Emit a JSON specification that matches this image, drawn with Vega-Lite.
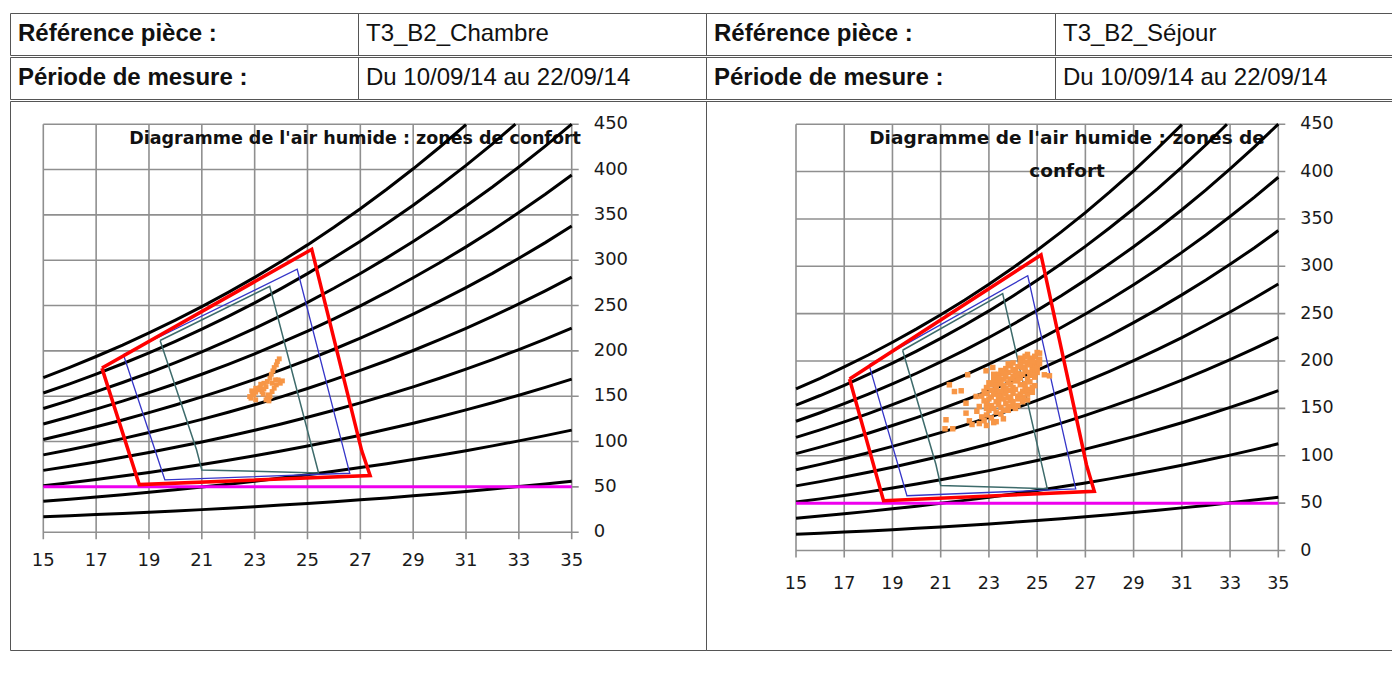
{
  "$schema": "https://vega.github.io/schema/vega-lite/v6.json",
  "padding": {"left": 9, "top": 12, "right": 0, "bottom": 0},
  "background": "white",
  "spacing": 0,
  "config": {"view": {"stroke": "#555555", "strokeWidth": 1}},
  "datasets": {
    "gridx": [{"t":15},{"t":17},{"t":19},{"t":21},{"t":23},{"t":25},{"t":27},{"t":29},{"t":31},{"t":33},{"t":35}],
    "gridy": [{"w":0},{"w":50},{"w":100},{"w":150},{"w":200},{"w":250},{"w":300},{"w":350},{"w":400},{"w":450}],
    "limite": [{"w": 50}],
    "curves": [
      {"r":100,"t":15,"w":170.5},{"r":100,"t":16,"w":181.8},{"r":100,"t":17,"w":193.8},{"r":100,"t":18,"w":206.4},{"r":100,"t":19,"w":219.8},{"r":100,"t":20,"w":233.9},{"r":100,"t":21,"w":248.8},{"r":100,"t":22,"w":264.5},{"r":100,"t":23,"w":281.0},{"r":100,"t":24,"w":298.5},{"r":100,"t":25,"w":316.9},{"r":100,"t":26,"w":336.3},{"r":100,"t":27,"w":356.7},{"r":100,"t":28,"w":378.2},{"r":100,"t":29,"w":400.8},{"r":100,"t":30,"w":424.6},{"r":100,"t":31,"w":449.6},
      {"r":90,"t":15,"w":153.5},{"r":90,"t":16,"w":163.6},{"r":90,"t":17,"w":174.4},{"r":90,"t":18,"w":185.8},{"r":90,"t":19,"w":197.8},{"r":90,"t":20,"w":210.5},{"r":90,"t":21,"w":223.9},{"r":90,"t":22,"w":238.1},{"r":90,"t":23,"w":252.9},{"r":90,"t":24,"w":268.7},{"r":90,"t":25,"w":285.2},{"r":90,"t":26,"w":302.7},{"r":90,"t":27,"w":321.0},{"r":90,"t":28,"w":340.4},{"r":90,"t":29,"w":360.7},{"r":90,"t":30,"w":382.1},{"r":90,"t":31,"w":404.6},{"r":90,"t":32,"w":428.3},{"r":90,"t":32.87,"w":450},
      {"r":80,"t":15,"w":136.4},{"r":80,"t":16,"w":145.4},{"r":80,"t":17,"w":155.0},{"r":80,"t":18,"w":165.1},{"r":80,"t":19,"w":175.8},{"r":80,"t":20,"w":187.1},{"r":80,"t":21,"w":199.0},{"r":80,"t":22,"w":211.6},{"r":80,"t":23,"w":224.8},{"r":80,"t":24,"w":238.8},{"r":80,"t":25,"w":253.5},{"r":80,"t":26,"w":269.0},{"r":80,"t":27,"w":285.4},{"r":80,"t":28,"w":302.6},{"r":80,"t":29,"w":320.6},{"r":80,"t":30,"w":339.7},{"r":80,"t":31,"w":359.7},{"r":80,"t":32,"w":380.7},{"r":80,"t":33,"w":402.8},{"r":80,"t":34,"w":425.9},{"r":80,"t":35,"w":450},
      {"r":70,"t":15,"w":119.4},{"r":70,"t":16,"w":127.3},{"r":70,"t":17,"w":135.7},{"r":70,"t":18,"w":144.5},{"r":70,"t":19,"w":153.9},{"r":70,"t":20,"w":163.7},{"r":70,"t":21,"w":174.2},{"r":70,"t":22,"w":185.2},{"r":70,"t":23,"w":196.7},{"r":70,"t":24,"w":209.0},{"r":70,"t":25,"w":221.8},{"r":70,"t":26,"w":235.4},{"r":70,"t":27,"w":249.7},{"r":70,"t":28,"w":264.7},{"r":70,"t":29,"w":280.6},{"r":70,"t":30,"w":297.2},{"r":70,"t":31,"w":314.7},{"r":70,"t":32,"w":333.1},{"r":70,"t":33,"w":352.5},{"r":70,"t":34,"w":372.7},{"r":70,"t":35,"w":394.0},
      {"r":60,"t":15,"w":102.3},{"r":60,"t":16,"w":109.1},{"r":60,"t":17,"w":116.3},{"r":60,"t":18,"w":123.8},{"r":60,"t":19,"w":131.9},{"r":60,"t":20,"w":140.3},{"r":60,"t":21,"w":149.3},{"r":60,"t":22,"w":158.7},{"r":60,"t":23,"w":168.6},{"r":60,"t":24,"w":179.1},{"r":60,"t":25,"w":190.1},{"r":60,"t":26,"w":201.8},{"r":60,"t":27,"w":214.0},{"r":60,"t":28,"w":226.9},{"r":60,"t":29,"w":240.5},{"r":60,"t":30,"w":254.8},{"r":60,"t":31,"w":269.8},{"r":60,"t":32,"w":285.5},{"r":60,"t":33,"w":302.1},{"r":60,"t":34,"w":319.4},{"r":60,"t":35,"w":337.7},
      {"r":50,"t":15,"w":85.3},{"r":50,"t":16,"w":90.9},{"r":50,"t":17,"w":96.9},{"r":50,"t":18,"w":103.2},{"r":50,"t":19,"w":109.9},{"r":50,"t":20,"w":117.0},{"r":50,"t":21,"w":124.4},{"r":50,"t":22,"w":132.3},{"r":50,"t":23,"w":140.5},{"r":50,"t":24,"w":149.3},{"r":50,"t":25,"w":158.5},{"r":50,"t":26,"w":168.2},{"r":50,"t":27,"w":178.4},{"r":50,"t":28,"w":189.1},{"r":50,"t":29,"w":200.4},{"r":50,"t":30,"w":212.3},{"r":50,"t":31,"w":224.8},{"r":50,"t":32,"w":238.0},{"r":50,"t":33,"w":251.8},{"r":50,"t":34,"w":266.2},{"r":50,"t":35,"w":281.4},
      {"r":40,"t":15,"w":68.2},{"r":40,"t":16,"w":72.7},{"r":40,"t":17,"w":77.5},{"r":40,"t":18,"w":82.6},{"r":40,"t":19,"w":87.9},{"r":40,"t":20,"w":93.6},{"r":40,"t":21,"w":99.5},{"r":40,"t":22,"w":105.8},{"r":40,"t":23,"w":112.4},{"r":40,"t":24,"w":119.4},{"r":40,"t":25,"w":126.8},{"r":40,"t":26,"w":134.5},{"r":40,"t":27,"w":142.7},{"r":40,"t":28,"w":151.3},{"r":40,"t":29,"w":160.3},{"r":40,"t":30,"w":169.8},{"r":40,"t":31,"w":179.8},{"r":40,"t":32,"w":190.4},{"r":40,"t":33,"w":201.4},{"r":40,"t":34,"w":213.0},{"r":40,"t":35,"w":225.1},
      {"r":30,"t":15,"w":51.2},{"r":30,"t":16,"w":54.5},{"r":30,"t":17,"w":58.1},{"r":30,"t":18,"w":61.9},{"r":30,"t":19,"w":65.9},{"r":30,"t":20,"w":70.2},{"r":30,"t":21,"w":74.6},{"r":30,"t":22,"w":79.4},{"r":30,"t":23,"w":84.3},{"r":30,"t":24,"w":89.6},{"r":30,"t":25,"w":95.1},{"r":30,"t":26,"w":100.9},{"r":30,"t":27,"w":107.0},{"r":30,"t":28,"w":113.5},{"r":30,"t":29,"w":120.2},{"r":30,"t":30,"w":127.4},{"r":30,"t":31,"w":134.9},{"r":30,"t":32,"w":142.8},{"r":30,"t":33,"w":151.1},{"r":30,"t":34,"w":159.7},{"r":30,"t":35,"w":168.8},
      {"r":20,"t":15,"w":34.1},{"r":20,"t":16,"w":36.4},{"r":20,"t":17,"w":38.8},{"r":20,"t":18,"w":41.3},{"r":20,"t":19,"w":44.0},{"r":20,"t":20,"w":46.8},{"r":20,"t":21,"w":49.8},{"r":20,"t":22,"w":52.9},{"r":20,"t":23,"w":56.2},{"r":20,"t":24,"w":59.7},{"r":20,"t":25,"w":63.4},{"r":20,"t":26,"w":67.3},{"r":20,"t":27,"w":71.3},{"r":20,"t":28,"w":75.6},{"r":20,"t":29,"w":80.2},{"r":20,"t":30,"w":84.9},{"r":20,"t":31,"w":89.9},{"r":20,"t":32,"w":95.2},{"r":20,"t":33,"w":100.7},{"r":20,"t":34,"w":106.5},{"r":20,"t":35,"w":112.6},
      {"r":10,"t":15,"w":17.1},{"r":10,"t":16,"w":18.2},{"r":10,"t":17,"w":19.4},{"r":10,"t":18,"w":20.6},{"r":10,"t":19,"w":22.0},{"r":10,"t":20,"w":23.4},{"r":10,"t":21,"w":24.9},{"r":10,"t":22,"w":26.5},{"r":10,"t":23,"w":28.1},{"r":10,"t":24,"w":29.9},{"r":10,"t":25,"w":31.7},{"r":10,"t":26,"w":33.6},{"r":10,"t":27,"w":35.7},{"r":10,"t":28,"w":37.8},{"r":10,"t":29,"w":40.1},{"r":10,"t":30,"w":42.5},{"r":10,"t":31,"w":45.0},{"r":10,"t":32,"w":47.6},{"r":10,"t":33,"w":50.4},{"r":10,"t":34,"w":53.2},{"r":10,"t":35,"w":56.3}
    ],
    "zones": [
      {"zone":"rouge","i":0,"t":17.22,"w":181},{"zone":"rouge","i":1,"t":25.16,"w":312},{"zone":"rouge","i":2,"t":27.05,"w":90},{"zone":"rouge","i":3,"t":27.37,"w":62.5},{"zone":"rouge","i":4,"t":18.63,"w":52.5},{"zone":"rouge","i":5,"t":17.22,"w":181},
      {"zone":"bleu","i":0,"t":18.03,"w":196},{"zone":"bleu","i":1,"t":24.61,"w":290},{"zone":"bleu","i":2,"t":26.6,"w":65},{"zone":"bleu","i":3,"t":19.6,"w":57.8},{"zone":"bleu","i":4,"t":18.03,"w":196},
      {"zone":"vert","i":0,"t":19.42,"w":211.4},{"zone":"vert","i":1,"t":23.57,"w":271.2},{"zone":"vert","i":2,"t":25.42,"w":65.3},{"zone":"vert","i":3,"t":21.0,"w":68.7},{"zone":"vert","i":4,"t":20.8,"w":91},{"zone":"vert","i":5,"t":19.42,"w":211.4}
    ],
    "mesuresChambre": [
      {"t":22.86,"w":147.8},{"t":22.97,"w":151.5},{"t":23.04,"w":154.4},{"t":22.92,"w":153.3},{"t":23.12,"w":157},{"t":23.2,"w":159.5},{"t":23.28,"w":155.1},{"t":23.35,"w":158},{"t":23.43,"w":160.6},{"t":23.51,"w":151.5},{"t":23.48,"w":147},{"t":23.58,"w":149.6},{"t":23.66,"w":155.1},{"t":23.74,"w":158.8},{"t":23.82,"w":162.5},{"t":23.97,"w":164.3},{"t":24.05,"w":166.9},{"t":23.89,"w":168},{"t":23.66,"w":164.3},{"t":23.58,"w":169.8},{"t":23.63,"w":174.2},{"t":23.69,"w":177.9},{"t":23.74,"w":181.6},{"t":23.82,"w":184.5},{"t":23.86,"w":188.2},{"t":23.93,"w":191.2},{"t":23.35,"w":164.3},{"t":23.23,"w":163.2},{"t":23.04,"w":158.8},{"t":22.89,"w":155.9},{"t":22.81,"w":149.6},{"t":23.04,"w":146},{"t":23.32,"w":152.2},{"t":23.43,"w":146},{"t":23.54,"w":144.8},{"t":23.79,"w":168},{"t":23.48,"w":166.2}
    ],
    "mesuresSejour": [
      {"t":21.36,"w":174.9},{"t":21.57,"w":167.8},{"t":21.85,"w":168.6},{"t":22.12,"w":185.5},{"t":21.22,"w":138},{"t":21.18,"w":128.5},{"t":21.5,"w":128.5},{"t":22.05,"w":155.5},{"t":22.05,"w":145},{"t":22.19,"w":136.9},{"t":22.47,"w":162.6},{"t":22.88,"w":189.7},{"t":23.16,"w":193.2},{"t":25.1,"w":208.3},{"t":25.3,"w":185.5},{"t":25.51,"w":184.4},{"t":24.34,"w":199.5},
      {"t":22.3,"w":133},{"t":22.6,"w":134},{"t":22.9,"w":132},{"t":23.3,"w":136},
      {"t":22.7,"w":141},{"t":22.9,"w":143},{"t":23.1,"w":140},{"t":23.3,"w":146},{"t":23.5,"w":144},{"t":22.5,"w":147},{"t":23.8,"w":148},{"t":23.0,"w":148},{"t":24.1,"w":150},{"t":22.8,"w":137},{"t":23.2,"w":135},{"t":23.6,"w":139},
      {"t":22.6,"w":152},{"t":22.9,"w":155},{"t":23.1,"w":153},{"t":23.3,"w":157},{"t":23.5,"w":151},{"t":23.7,"w":155},{"t":23.9,"w":158},{"t":24.2,"w":153},{"t":24.4,"w":157},{"t":22.8,"w":158},{"t":23.4,"w":159},{"t":24.0,"w":152},{"t":24.6,"w":159},
      {"t":22.7,"w":163},{"t":22.9,"w":166},{"t":23.1,"w":162},{"t":23.3,"w":168},{"t":23.5,"w":164},{"t":23.6,"w":169},{"t":23.8,"w":161},{"t":24.0,"w":166},{"t":24.2,"w":163},{"t":24.4,"w":168},{"t":24.6,"w":165},{"t":23.2,"w":165},{"t":23.9,"w":169},{"t":24.8,"w":167},
      {"t":22.9,"w":172},{"t":23.1,"w":175},{"t":23.3,"w":171},{"t":23.4,"w":178},{"t":23.6,"w":174},{"t":23.8,"w":177},{"t":24.0,"w":172},{"t":24.1,"w":179},{"t":24.3,"w":175},{"t":24.5,"w":171},{"t":24.7,"w":178},{"t":23.7,"w":171},{"t":24.9,"w":174},{"t":23.2,"w":179},
      {"t":23.2,"w":183},{"t":23.4,"w":186},{"t":23.6,"w":181},{"t":23.8,"w":188},{"t":24.0,"w":184},{"t":24.2,"w":187},{"t":24.3,"w":182},{"t":24.5,"w":189},{"t":24.7,"w":185},{"t":24.9,"w":183},{"t":23.9,"w":181},{"t":24.4,"w":186},{"t":25.0,"w":188},
      {"t":23.7,"w":192},{"t":23.9,"w":195},{"t":24.1,"w":191},{"t":24.3,"w":197},{"t":24.5,"w":193},{"t":24.6,"w":198},{"t":24.8,"w":194},{"t":25.0,"w":196},{"t":24.2,"w":194},{"t":24.9,"w":199},
      {"t":24.4,"w":201},{"t":24.7,"w":203},{"t":24.9,"w":205},{"t":25.1,"w":202},{"t":24.6,"w":207},{"t":25.0,"w":209},
      {"t":23.0,"w":160},{"t":23.2,"w":150},{"t":23.4,"w":154},{"t":23.6,"w":160},{"t":23.8,"w":152},{"t":24.0,"w":157},{"t":24.2,"w":160},{"t":24.4,"w":162},{"t":24.6,"w":170},{"t":24.8,"w":172},{"t":23.5,"w":168},{"t":23.7,"w":166},{"t":24.1,"w":170},{"t":24.3,"w":165},{"t":23.3,"w":174},{"t":23.5,"w":176},{"t":23.9,"w":175},{"t":24.1,"w":185},{"t":24.6,"w":181},{"t":24.8,"w":190},{"t":24.4,"w":193},{"t":24.0,"w":190},{"t":23.6,"w":187},{"t":23.4,"w":182},{"t":23.0,"w":177},{"t":22.8,"w":168},{"t":23.1,"w":169},{"t":24.7,"w":196},{"t":24.5,"w":199},{"t":25.0,"w":192},{"t":24.3,"w":203},{"t":23.8,"w":197},{"t":23.5,"w":190},{"t":24.0,"w":198},{"t":24.2,"w":180},{"t":24.8,"w":200},{"t":23.7,"w":183},{"t":22.9,"w":150},{"t":23.6,"w":148},{"t":23.9,"w":162},{"t":24.5,"w":176},{"t":23.4,"w":163},{"t":24.7,"w":188},{"t":23.2,"w":186},{"t":24.9,"w":185},{"t":25.1,"w":197},{"t":24.5,"w":205}
    ]
  },
  "vconcat": [
    {
      "spacing": 0,
      "bounds": "flush",
      "hconcat": [
        {"width": 348, "height": 42, "data": {"values": [{"label": "Référence pièce :"}]}, "mark": {"type": "text", "align": "left", "baseline": "middle", "dx": 8, "font": "Liberation Sans", "fontSize": 24, "fontWeight": "bold", "color": "#111111"}, "encoding": {"text": {"field": "label"}, "x": {"datum": 0, "scale": {"domain": [0, 1]}, "axis": null}, "y": {"datum": 0.5, "scale": {"domain": [0, 1]}, "axis": null}}},
        {"width": 348, "height": 42, "data": {"values": [{"label": "T3_B2_Chambre"}]}, "mark": {"type": "text", "align": "left", "baseline": "middle", "dx": 8, "font": "Liberation Sans", "fontSize": 24, "color": "#111111"}, "encoding": {"text": {"field": "label"}, "x": {"datum": 0, "scale": {"domain": [0, 1]}, "axis": null}, "y": {"datum": 0.5, "scale": {"domain": [0, 1]}, "axis": null}}},
        {"width": 349, "height": 42, "data": {"values": [{"label": "Référence pièce :"}]}, "mark": {"type": "text", "align": "left", "baseline": "middle", "dx": 8, "font": "Liberation Sans", "fontSize": 24, "fontWeight": "bold", "color": "#111111"}, "encoding": {"text": {"field": "label"}, "x": {"datum": 0, "scale": {"domain": [0, 1]}, "axis": null}, "y": {"datum": 0.5, "scale": {"domain": [0, 1]}, "axis": null}}},
        {"width": 337, "height": 42, "data": {"values": [{"label": "T3_B2_Séjour"}]}, "mark": {"type": "text", "align": "left", "baseline": "middle", "dx": 8, "font": "Liberation Sans", "fontSize": 24, "color": "#111111"}, "encoding": {"text": {"field": "label"}, "x": {"datum": 0, "scale": {"domain": [0, 1]}, "axis": null}, "y": {"datum": 0.5, "scale": {"domain": [0, 1]}, "axis": null}}}
      ]
    },
    {
      "spacing": 0,
      "bounds": "flush",
      "hconcat": [
        {"width": 348, "height": 42, "data": {"values": [{"label": "Période de mesure :"}]}, "mark": {"type": "text", "align": "left", "baseline": "middle", "dx": 8, "font": "Liberation Sans", "fontSize": 24, "fontWeight": "bold", "color": "#111111"}, "encoding": {"text": {"field": "label"}, "x": {"datum": 0, "scale": {"domain": [0, 1]}, "axis": null}, "y": {"datum": 0.5, "scale": {"domain": [0, 1]}, "axis": null}}},
        {"width": 348, "height": 42, "data": {"values": [{"label": "Du 10/09/14 au 22/09/14"}]}, "mark": {"type": "text", "align": "left", "baseline": "middle", "dx": 8, "font": "Liberation Sans", "fontSize": 24, "color": "#111111"}, "encoding": {"text": {"field": "label"}, "x": {"datum": 0, "scale": {"domain": [0, 1]}, "axis": null}, "y": {"datum": 0.5, "scale": {"domain": [0, 1]}, "axis": null}}},
        {"width": 349, "height": 42, "data": {"values": [{"label": "Période de mesure :"}]}, "mark": {"type": "text", "align": "left", "baseline": "middle", "dx": 8, "font": "Liberation Sans", "fontSize": 24, "fontWeight": "bold", "color": "#111111"}, "encoding": {"text": {"field": "label"}, "x": {"datum": 0, "scale": {"domain": [0, 1]}, "axis": null}, "y": {"datum": 0.5, "scale": {"domain": [0, 1]}, "axis": null}}},
        {"width": 337, "height": 42, "data": {"values": [{"label": "Du 10/09/14 au 22/09/14"}]}, "mark": {"type": "text", "align": "left", "baseline": "middle", "dx": 8, "font": "Liberation Sans", "fontSize": 24, "color": "#111111"}, "encoding": {"text": {"field": "label"}, "x": {"datum": 0, "scale": {"domain": [0, 1]}, "axis": null}, "y": {"datum": 0.5, "scale": {"domain": [0, 1]}, "axis": null}}}
      ]
    },
    {
      "spacing": 0,
      "bounds": "flush",
      "hconcat": [
        {
          "width": 696,
          "height": 549,
          "layer": [
            {"data": {"name": "gridx"}, "mark": {"type": "rule", "color": "#8f8f8f", "strokeWidth": 1.6},
             "encoding": {
               "x": {"field": "t", "type": "quantitative", "scale": {"domain": [15, 35], "range": [33.3, 561.7], "nice": false, "zero": false}, "axis": null},
               "y": {"datum": -7.7, "axis": null}, "y2": {"datum": 450}}},
            {"data": {"name": "gridy"}, "mark": {"type": "rule", "color": "#8f8f8f", "strokeWidth": 1.6},
             "encoding": {
               "y": {"field": "w", "type": "quantitative", "scale": {"domain": [0, 450], "range": [431.2, 23.2], "nice": false, "zero": false}, "axis": null},
               "x": {"datum": 15, "axis": null}, "x2": {"datum": 35.265}}},
            {"data": {"name": "gridx"}, "mark": {"type": "text", "font": "DejaVu Sans", "fontSize": 18, "color": "#1a1a1a", "align": "center", "baseline": "middle", "dy": 29},
             "encoding": {"x": {"field": "t", "type": "quantitative", "axis": null}, "y": {"datum": 0, "axis": null}, "text": {"field": "t", "type": "quantitative"}}},
            {"data": {"name": "gridy"}, "mark": {"type": "text", "font": "DejaVu Sans", "fontSize": 18, "color": "#1a1a1a", "align": "left", "baseline": "middle", "dx": 22},
             "encoding": {"y": {"field": "w", "type": "quantitative", "axis": null}, "x": {"datum": 35, "axis": null}, "text": {"field": "w", "type": "quantitative"}}},
            {"data": {"values": [{"titre": "Diagramme de l'air humide : zones de confort"}]}, "mark": {"type": "text", "font": "DejaVu Sans", "fontWeight": "bold", "fontSize": 17.5, "color": "#111111", "align": "center", "baseline": "middle"},
             "encoding": {"text": {"field": "titre"}, "x": {"datum": 26.8, "axis": null}, "y": {"datum": 434.2, "axis": null}}},
            {"data": {"name": "curves"}, "mark": {"type": "line", "color": "#000000", "strokeWidth": 3},
             "encoding": {"x": {"field": "t", "type": "quantitative", "axis": null}, "y": {"field": "w", "type": "quantitative", "axis": null}, "detail": {"field": "r"}}},
            {"data": {"name": "limite"}, "mark": {"type": "rule", "color": "#ee00ee", "strokeWidth": 3},
             "encoding": {"y": {"field": "w", "type": "quantitative", "axis": null}, "x": {"datum": 15, "axis": null}, "x2": {"datum": 35}}},
            {"data": {"name": "zones"}, "transform": [{"filter": "datum.zone === 'vert'"}], "mark": {"type": "line", "color": "#3d6b6b", "strokeWidth": 1.5},
             "encoding": {"x": {"field": "t", "type": "quantitative", "axis": null}, "y": {"field": "w", "type": "quantitative", "axis": null}, "order": {"field": "i"}}},
            {"data": {"name": "zones"}, "transform": [{"filter": "datum.zone === 'bleu'"}], "mark": {"type": "line", "color": "#3535c8", "strokeWidth": 1.3},
             "encoding": {"x": {"field": "t", "type": "quantitative", "axis": null}, "y": {"field": "w", "type": "quantitative", "axis": null}, "order": {"field": "i"}}},
            {"data": {"name": "zones"}, "transform": [{"filter": "datum.zone === 'rouge'"}], "mark": {"type": "line", "color": "#ff0000", "strokeWidth": 3.5},
             "encoding": {"x": {"field": "t", "type": "quantitative", "axis": null}, "y": {"field": "w", "type": "quantitative", "axis": null}, "order": {"field": "i"}}},
            {"data": {"name": "mesuresChambre"}, "mark": {"type": "square", "color": "#f79646", "size": 24, "opacity": 1},
             "encoding": {"x": {"field": "t", "type": "quantitative", "axis": null}, "y": {"field": "w", "type": "quantitative", "axis": null}}}
          ]
        },
        {
          "width": 686,
          "height": 549,
          "layer": [
            {"data": {"name": "gridx"}, "mark": {"type": "rule", "color": "#8f8f8f", "strokeWidth": 1.6},
             "encoding": {
               "x": {"field": "t", "type": "quantitative", "scale": {"domain": [15, 35], "range": [90, 572.3], "nice": false, "zero": false}, "axis": null},
               "y": {"datum": -7.4, "axis": null}, "y2": {"datum": 450}}},
            {"data": {"name": "gridy"}, "mark": {"type": "rule", "color": "#8f8f8f", "strokeWidth": 1.6},
             "encoding": {
               "y": {"field": "w", "type": "quantitative", "scale": {"domain": [0, 450], "range": [449.5, 23.2], "nice": false, "zero": false}, "axis": null},
               "x": {"datum": 15, "axis": null}, "x2": {"datum": 35.29}}},
            {"data": {"name": "gridx"}, "mark": {"type": "text", "font": "DejaVu Sans", "fontSize": 17.5, "color": "#1a1a1a", "align": "center", "baseline": "middle", "dy": 33},
             "encoding": {"x": {"field": "t", "type": "quantitative", "axis": null}, "y": {"datum": 0, "axis": null}, "text": {"field": "t", "type": "quantitative"}}},
            {"data": {"name": "gridy"}, "mark": {"type": "text", "font": "DejaVu Sans", "fontSize": 17.5, "color": "#1a1a1a", "align": "left", "baseline": "middle", "dx": 22},
             "encoding": {"y": {"field": "w", "type": "quantitative", "axis": null}, "x": {"datum": 35, "axis": null}, "text": {"field": "w", "type": "quantitative"}}},
            {"data": {"values": [{"titre": ["Diagramme de l'air humide : zones de", "confort"]}]}, "mark": {"type": "text", "font": "DejaVu Sans", "fontWeight": "bold", "fontSize": 18.5, "lineHeight": 33, "color": "#111111", "align": "center", "baseline": "middle"},
             "encoding": {"text": {"field": "titre"}, "x": {"datum": 26.24, "axis": null}, "y": {"datum": 435, "axis": null}}},
            {"data": {"name": "curves"}, "mark": {"type": "line", "color": "#000000", "strokeWidth": 3},
             "encoding": {"x": {"field": "t", "type": "quantitative", "axis": null}, "y": {"field": "w", "type": "quantitative", "axis": null}, "detail": {"field": "r"}}},
            {"data": {"name": "limite"}, "mark": {"type": "rule", "color": "#ee00ee", "strokeWidth": 3},
             "encoding": {"y": {"field": "w", "type": "quantitative", "axis": null}, "x": {"datum": 15, "axis": null}, "x2": {"datum": 35}}},
            {"data": {"name": "zones"}, "transform": [{"filter": "datum.zone === 'vert'"}], "mark": {"type": "line", "color": "#3d6b6b", "strokeWidth": 1.5},
             "encoding": {"x": {"field": "t", "type": "quantitative", "axis": null}, "y": {"field": "w", "type": "quantitative", "axis": null}, "order": {"field": "i"}}},
            {"data": {"name": "zones"}, "transform": [{"filter": "datum.zone === 'bleu'"}], "mark": {"type": "line", "color": "#3535c8", "strokeWidth": 1.3},
             "encoding": {"x": {"field": "t", "type": "quantitative", "axis": null}, "y": {"field": "w", "type": "quantitative", "axis": null}, "order": {"field": "i"}}},
            {"data": {"name": "zones"}, "transform": [{"filter": "datum.zone === 'rouge'"}], "mark": {"type": "line", "color": "#ff0000", "strokeWidth": 3.5},
             "encoding": {"x": {"field": "t", "type": "quantitative", "axis": null}, "y": {"field": "w", "type": "quantitative", "axis": null}, "order": {"field": "i"}}},
            {"data": {"name": "mesuresSejour"}, "mark": {"type": "square", "color": "#f79646", "size": 30, "opacity": 1},
             "encoding": {"x": {"field": "t", "type": "quantitative", "axis": null}, "y": {"field": "w", "type": "quantitative", "axis": null}}}
          ]
        }
      ]
    },
    {
      "spacing": 0,
      "bounds": "flush",
      "hconcat": [
        {"width": 1382, "height": 33, "data": {"values": [{"vide": ""}]}, "mark": {"type": "text"}, "encoding": {"text": {"field": "vide"}}}
      ]
    }
  ]
}
